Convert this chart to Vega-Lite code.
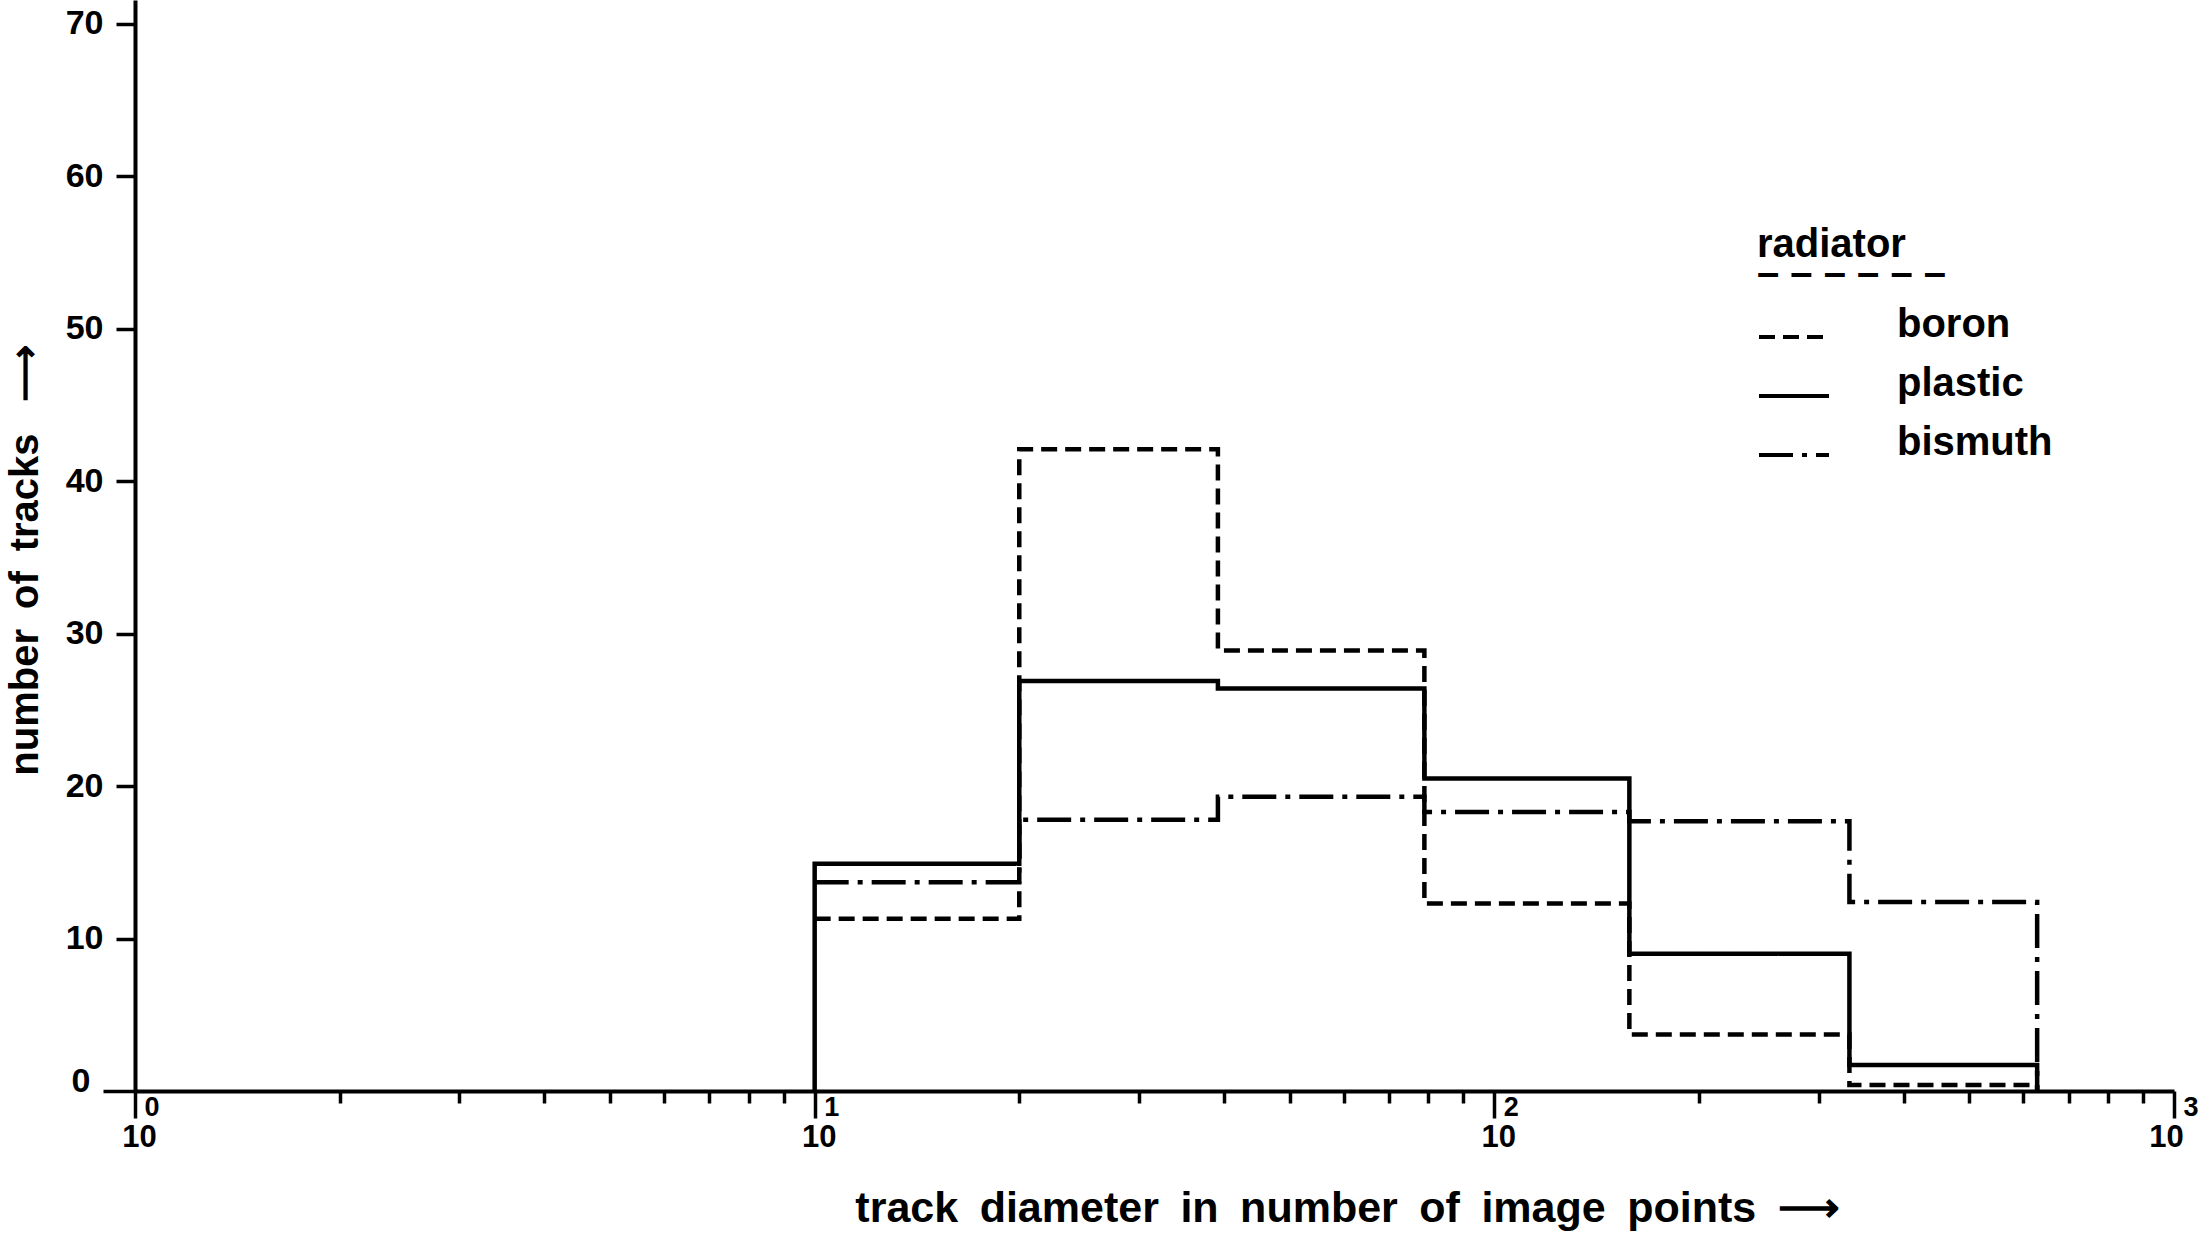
{
  "$schema": "https://vega.github.io/schema/vega-lite/v6.json",
  "autosize": {"type": "none"},
  "width": 2039,
  "height": 1091,
  "padding": {"left": 135, "top": 0, "right": 27, "bottom": 148},
  "background": "white",
  "config": {
    "view": {"stroke": null},
    "font": "Liberation Sans",
    "axis": {"domainColor": "black", "tickColor": "black", "labelColor": "black", "titleColor": "black", "grid": false, "labelFont": "Liberation Sans", "titleFont": "Liberation Sans", "labelFontWeight": "bold", "titleFontWeight": "bold"},
    "legend": {"labelFont": "Liberation Sans", "titleFont": "Liberation Sans"}
  },
  "datasets": {
    "hist": [
      {"radiator": "boron", "i": 1, "d": 10, "n": 11.3},
      {"radiator": "boron", "i": 2, "d": 20, "n": 42.1},
      {"radiator": "boron", "i": 3, "d": 39.2, "n": 28.9},
      {"radiator": "boron", "i": 4, "d": 78.9, "n": 12.3},
      {"radiator": "boron", "i": 5, "d": 158, "n": 3.7},
      {"radiator": "boron", "i": 6, "d": 333, "n": 0.4},
      {"radiator": "boron", "i": 7, "d": 629, "n": 0},
      {"radiator": "plastic", "i": 0, "d": 10, "n": 0},
      {"radiator": "plastic", "i": 1, "d": 10, "n": 14.9},
      {"radiator": "plastic", "i": 2, "d": 20, "n": 26.9},
      {"radiator": "plastic", "i": 3, "d": 39.2, "n": 26.4},
      {"radiator": "plastic", "i": 4, "d": 78.9, "n": 20.5},
      {"radiator": "plastic", "i": 5, "d": 158, "n": 9.0},
      {"radiator": "plastic", "i": 6, "d": 333, "n": 1.7},
      {"radiator": "plastic", "i": 7, "d": 629, "n": 0},
      {"radiator": "bismuth", "i": 1, "d": 10, "n": 13.7},
      {"radiator": "bismuth", "i": 2, "d": 20, "n": 17.8},
      {"radiator": "bismuth", "i": 3, "d": 39.2, "n": 19.3},
      {"radiator": "bismuth", "i": 4, "d": 78.9, "n": 18.3},
      {"radiator": "bismuth", "i": 5, "d": 158, "n": 17.7},
      {"radiator": "bismuth", "i": 6, "d": 333, "n": 12.4},
      {"radiator": "bismuth", "i": 7, "d": 629, "n": 0}
    ]
  },
  "resolve": {"axis": {"x": "independent"}},
  "layer": [
    {
      "data": {"name": "hist"},
      "mark": {"type": "line", "interpolate": "step-after", "color": "black", "strokeWidth": 4.5, "strokeCap": "butt"},
      "encoding": {
        "x": {
          "field": "d", "type": "quantitative",
          "scale": {"type": "log", "domain": [1, 1000], "nice": false},
          "axis": {
            "orient": "bottom",
            "title": "track\u2002diameter\u2002in\u2002number\u2002of\u2002image\u2002points\u2002⟶",
            "titleFontSize": 43,
            "titleX": 1212,
            "titleY": 96,
            "titleAlign": "center",
            "titleBaseline": "top",
            "values": [1,2,3,4,5,6,7,8,9,10,20,30,40,50,60,70,80,90,100,200,300,400,500,600,700,800,900,1000],
            "labelExpr": "indexof([1,10,100,1000], datum.value) >= 0 ? '10' : ''",
            "labelFontSize": 31,
            "labelAlign": "center",
            "labelBaseline": "top",
            "labelPadding": 4,
            "labelOffset": {"condition": {"test": "datum.value == 1000", "value": -8}, "value": 4},
            "labelOverlap": false,
            "labelFlush": false,
            "domainWidth": 4,
            "tickWidth": 3.5,
            "tickSize": {"condition": {"test": "indexof([1,10,100,1000], datum.value) >= 0", "value": 27}, "value": 12}
          }
        },
        "y": {
          "field": "n", "type": "quantitative",
          "scale": {"domain": [0, 71.57], "nice": false, "zero": true},
          "axis": {
            "title": "number\u2002of\u2002tracks\u2002 ⟶",
            "titleFontSize": 40,
            "titleX": -110,
            "titleY": 560,
            "titleAlign": "center",
            "titleBaseline": "middle",
            "titleAngle": -90,
            "values": [0, 10, 20, 30, 40, 50, 60, 70],
            "labelFontSize": 34,
            "labelPadding": 13,
            "labelBaseline": {"condition": {"test": "datum.value == 0", "value": "alphabetic"}, "value": "middle"},
            "domainWidth": 4,
            "tickWidth": 3.5,
            "tickSize": {"condition": {"test": "datum.value == 0", "value": 32}, "value": 19}
          }
        },
        "strokeDash": {
          "field": "radiator", "type": "nominal",
          "scale": {"domain": ["boron", "plastic", "bismuth"], "range": [[16, 8], [1, 0], [34, 9, 5, 9]]},
          "legend": {
            "orient": "none",
            "legendX": 1622,
            "legendY": 225,
            "title": ["radiator", "– – – – – –"],
            "titleFontSize": 40,
            "titleFontWeight": "bold",
            "titleLineHeight": 29,
            "titlePadding": 6,
            "titleLimit": 500,
            "titleColor": "black",
            "labelFontSize": 40,
            "labelFontWeight": "bold",
            "labelColor": "black",
            "labelBaseline": "alphabetic",
            "labelOffset": 66,
            "labelLimit": 400,
            "symbolType": "stroke",
            "symbolSize": 4900,
            "symbolStrokeWidth": 4,
            "symbolStrokeColor": "black",
            "rowPadding": 14
          }
        },
        "order": {"field": "i", "type": "quantitative"},
        "detail": {"field": "radiator"}
      }
    },
    {
      "mark": {"type": "point", "shape": "triangle-right", "filled": true, "color": "black", "opacity": 1, "size": 800, "xOffset": 13},
      "encoding": {
        "x": {
          "datum": 1000, "type": "quantitative",
          "axis": {
            "orient": "bottom",
            "offset": 0,
            "title": null,
            "values": [1, 10, 100, 1000],
            "labelExpr": "datum.value == 1 ? '0' : datum.value == 10 ? '1' : datum.value == 100 ? '2' : '3'",
            "domain": false,
            "ticks": false,
            "tickSize": 0,
            "labelFontSize": 27,
            "labelAlign": "left",
            "labelBaseline": "top",
            "labelPadding": 3,
            "labelOffset": 9,
            "labelOverlap": false,
            "labelFlush": false
          }
        },
        "y": {"datum": 0, "type": "quantitative"}
      }
    }
  ]
}
